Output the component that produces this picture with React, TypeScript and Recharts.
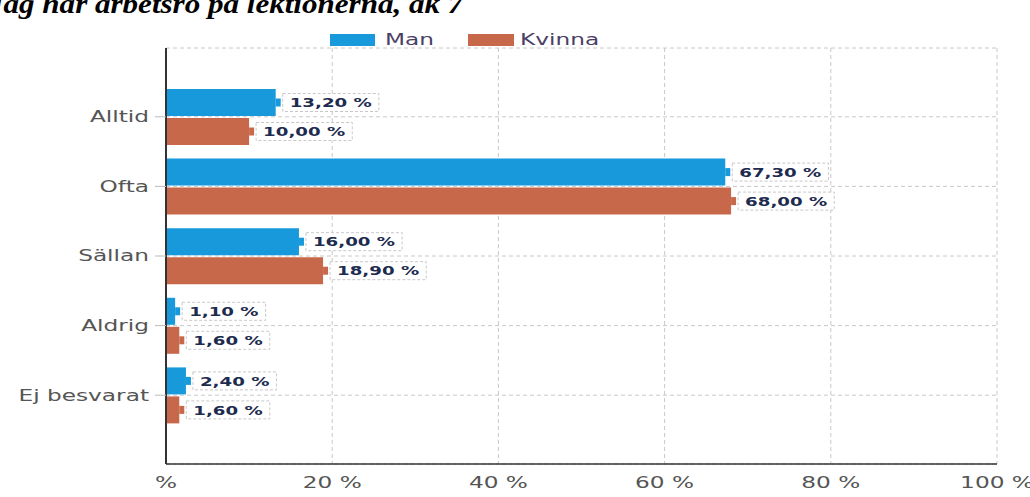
import { BarChart, Bar, XAxis, YAxis, CartesianGrid, LabelList } from 'recharts';

const categories = ['Alltid', 'Ofta', 'Sällan', 'Aldrig', 'Ej besvarat'];
const manValues = [13.2, 67.3, 16.0, 1.1, 2.4];
const kvinnaValues = [10.0, 68.0, 18.9, 1.6, 1.6];
const xTicks = [0, 20, 40, 60, 80, 100];

const MAN = '#1799db';
const KVINNA = '#c8684b';
const STRETCH = 1.55;

const data = categories.map((name, i) => ({
  name,
  man: manValues[i],
  kvinna: kvinnaValues[i],
}));

const fmt = (v: number) => `${v.toFixed(2).replace('.', ',')} %`;

// rough DejaVu Sans Bold advance widths (em)
const charW = (c: string) => (c === ',' ? 0.38 : c === ' ' ? 0.348 : c === '%' ? 1.002 : 0.696);

function makeLabel(color: string) {
  return (props: any) => {
    const { x, y, width, height, value } = props;
    const end = Number(x) + Number(width);
    const cy = Number(y) + Number(height) / 2;
    const text = fmt(Number(value));
    const fs = 13;
    const scale = 1.4;
    const tw = text.split('').reduce((s, c) => s + charW(c) * fs, 0) * scale;
    const bx = end + 7;
    return (
      <g>
        <rect x={end} y={cy - 4} width={5} height={8} fill={color} />
        <rect
          x={bx}
          y={cy - 9}
          width={tw + 14}
          height={18}
          fill="#fff"
          stroke="#c8c8c8"
          strokeDasharray="3 2"
        />
        <text
          transform={`translate(${bx + 7},${cy}) scale(${scale},1)`}
          dy="0.36em"
          fontFamily="DejaVu Sans"
          fontWeight="bold"
          fontSize={fs}
          fill="#1d2b4f"
        >
          {text}
        </text>
      </g>
    );
  };
}

const YTick = (props: any) => {
  const { x, y, payload } = props;
  return (
    <text
      transform={`translate(${x},${y}) scale(${STRETCH},1)`}
      dy="0.36em"
      textAnchor="end"
      fontFamily="DejaVu Sans"
      fontSize={15}
      fill="#555"
    >
      {payload.value}
    </text>
  );
};

const XTick = (props: any) => {
  const { x, y, payload } = props;
  const label = payload.value === 0 ? '%' : `${payload.value} %`;
  return (
    <text
      transform={`translate(${x},${y}) scale(${STRETCH},1)`}
      dy="0.9em"
      textAnchor="middle"
      fontFamily="DejaVu Sans"
      fontSize={15}
      fill="#555"
    >
      {label}
    </text>
  );
};

export default function App() {
  return (
    <div
      style={{
        position: 'fixed',
        left: 0,
        top: 0,
        width: 1030,
        height: 497,
        background: '#fff',
        overflow: 'hidden',
      }}
    >
      <div
        style={{
          position: 'absolute',
          left: -12,
          top: -11,
          fontFamily: 'Liberation Serif',
          fontWeight: 'bold',
          fontStyle: 'italic',
          fontSize: 27,
          whiteSpace: 'nowrap',
          transform: 'scaleX(1.15)',
          transformOrigin: 'left top',
          color: '#000',
        }}
      >
        Jag har arbetsro på lektionerna, åk 7
      </div>

      <div
        style={{
          position: 'absolute',
          top: 31,
          left: 330,
          display: 'flex',
          alignItems: 'center',
          fontFamily: 'DejaVu Sans',
          fontSize: 15,
          color: '#4a3f66',
        }}
      >
        <span style={{ width: 45, height: 12, background: MAN, display: 'inline-block' }} />
        <span style={{ display: 'inline-block', transform: `scaleX(${STRETCH})`, transformOrigin: 'left center', marginLeft: 10, width: 83 }}>
          Man
        </span>
        <span style={{ width: 46, height: 12, background: KVINNA, display: 'inline-block' }} />
        <span style={{ display: 'inline-block', transform: `scaleX(${STRETCH})`, transformOrigin: 'left center', marginLeft: 6 }}>
          Kvinna
        </span>
      </div>

      <BarChart
        width={1030}
        height={497}
        data={data}
        layout="vertical"
        margin={{ top: 48, right: 33, bottom: 0, left: 0 }}
        barSize={27}
        barGap={2}
      >
        <CartesianGrid stroke="#c8c8c8" strokeDasharray="4 3" />
        <XAxis
          type="number"
          domain={[0, 100]}
          ticks={xTicks}
          height={33}
          tick={<XTick />}
          tickLine={false}
          axisLine={{ stroke: '#333', strokeWidth: 1.5 }}
          tickMargin={4}
        />
        <YAxis
          type="category"
          dataKey="name"
          width={166}
          padding={{ top: 34, bottom: 34 }}
          tick={<YTick />}
          tickSize={11}
          tickMargin={6}
          tickLine={{ stroke: '#bbb' }}
          axisLine={{ stroke: '#333', strokeWidth: 2 }}
        />
        <Bar dataKey="man" fill={MAN} isAnimationActive={false}>
          <LabelList dataKey="man" content={makeLabel(MAN)} />
        </Bar>
        <Bar dataKey="kvinna" fill={KVINNA} isAnimationActive={false}>
          <LabelList dataKey="kvinna" content={makeLabel(KVINNA)} />
        </Bar>
      </BarChart>
    </div>
  );
}
